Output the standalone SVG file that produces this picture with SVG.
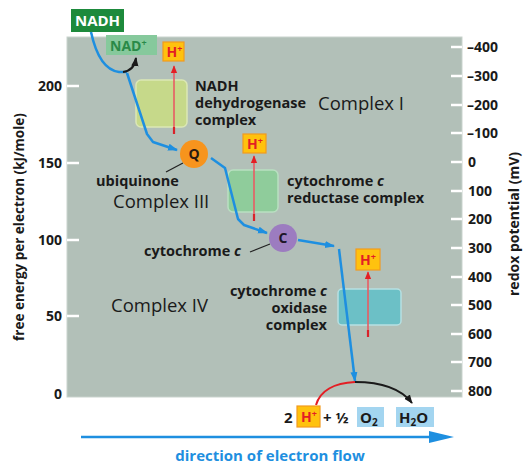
<svg xmlns="http://www.w3.org/2000/svg" width="525" height="469" viewBox="0 0 525 469">
<style>
text{font-family:"Open Sans","Liberation Sans",sans-serif;}
.b{font-weight:bold;font-size:14.5px;fill:#1a1a1a;}
.ax{font-weight:bold;font-size:14px;fill:#1a1a1a;}
.cx{font-size:18.5px;fill:#1a1a1a;}
.tick{stroke:#ffffff;stroke-width:2.5;}
.e{fill:none;stroke:#1e8fe0;stroke-width:2.5;stroke-linejoin:round;}
.hb{fill:#ffc20e;stroke:#f29a1f;stroke-width:1.2;}
.ht{font-weight:bold;font-size:14px;fill:#e31e24;}
.hs{font-size:9px;}
.red{stroke:#e85c63;stroke-width:1.6;fill:none;}
.ob{fill:#a3d5f0;}
</style>
<defs>
<marker id="ab" viewBox="0 0 10 10" refX="9" refY="5" markerWidth="4" markerHeight="4" orient="auto" markerUnits="strokeWidth"><path d="M0,1.5 L10,5 L0,8.5 z" fill="#1e8fe0"/></marker>
<marker id="ak" viewBox="0 0 10 10" refX="9" refY="5" markerWidth="4.5" markerHeight="4.5" orient="auto" markerUnits="strokeWidth"><path d="M0,1 L10,5 L0,9 z" fill="#1a1a1a"/></marker>
<marker id="ar" viewBox="0 0 10 10" refX="9" refY="5" markerWidth="5" markerHeight="5" orient="auto" markerUnits="strokeWidth"><path d="M0,1 L10,5 L0,9 z" fill="#e31e24"/></marker>
</defs>

<g id="panel">
<rect x="67" y="37" width="395" height="360" fill="#b2c0b8" stroke="#c9d3cd" stroke-width="1"/>
</g>

<g id="left-axis">
<line class="tick" x1="67" y1="86" x2="79" y2="86"/>
<line class="tick" x1="67" y1="163" x2="79" y2="163"/>
<line class="tick" x1="67" y1="240" x2="79" y2="240"/>
<line class="tick" x1="67" y1="316" x2="79" y2="316"/>
<text class="ax" x="62" y="91" text-anchor="end">200</text>
<text class="ax" x="62" y="168" text-anchor="end">150</text>
<text class="ax" x="62" y="245" text-anchor="end">100</text>
<text class="ax" x="62" y="321" text-anchor="end">50</text>
<text class="ax" x="62" y="399" text-anchor="end">0</text>
<text class="ax" font-size="13.5" transform="translate(24,227) rotate(-90)" text-anchor="middle" style="font-size:13.5px">free energy per electron (kJ/mole)</text>
</g>

<g id="right-axis">
<line class="tick" x1="451" y1="47" x2="462" y2="47"/>
<line class="tick" x1="451" y1="76" x2="462" y2="76"/>
<line class="tick" x1="451" y1="105" x2="462" y2="105"/>
<line class="tick" x1="451" y1="133" x2="462" y2="133"/>
<line class="tick" x1="451" y1="162" x2="462" y2="162"/>
<line class="tick" x1="451" y1="191" x2="462" y2="191"/>
<line class="tick" x1="451" y1="219" x2="462" y2="219"/>
<line class="tick" x1="451" y1="248" x2="462" y2="248"/>
<line class="tick" x1="451" y1="277" x2="462" y2="277"/>
<line class="tick" x1="451" y1="305" x2="462" y2="305"/>
<line class="tick" x1="451" y1="334" x2="462" y2="334"/>
<line class="tick" x1="451" y1="362" x2="462" y2="362"/>
<line class="tick" x1="451" y1="391" x2="462" y2="391"/>
<text class="ax" x="467" y="52">–400</text>
<text class="ax" x="467" y="81">–300</text>
<text class="ax" x="467" y="110">–200</text>
<text class="ax" x="467" y="138">–100</text>
<text class="ax" x="468" y="167">0</text>
<text class="ax" x="468" y="196">100</text>
<text class="ax" x="468" y="224">200</text>
<text class="ax" x="468" y="253">300</text>
<text class="ax" x="468" y="282">400</text>
<text class="ax" x="468" y="310">500</text>
<text class="ax" x="468" y="339">600</text>
<text class="ax" x="468" y="367">700</text>
<text class="ax" x="468" y="396">800</text>
<text class="ax" transform="translate(519,224) rotate(-90)" text-anchor="middle">redox potential (mV)</text>
</g>

<g id="nadh">
<rect x="71" y="9" width="53" height="23" fill="#1d8a3c"/>
<text x="97.5" y="26" text-anchor="middle" style="font-weight:bold;font-size:15px;fill:#ffffff">NADH</text>
</g>
<g id="nad-plus">
<rect x="106" y="35" width="51" height="20" fill="#86c99c"/>
<text x="110" y="51" style="font-weight:bold;font-size:14px;fill:#2a8a48">NAD<tspan class="hs" dy="-5">+</tspan></text>
</g>

<g id="complex-I">
<rect x="136" y="80" width="51" height="47" rx="5" fill="#c6d98a" stroke="#dbe7b5" stroke-width="1.5"/>
<text class="b" x="195" y="91">NADH</text>
<text class="b" x="195" y="108">dehydrogenase</text>
<text class="b" x="195" y="125">complex</text>
<text class="cx" x="318" y="110">Complex I</text>
</g>
<g id="h-I">
<line class="red" x1="174" y1="133" x2="174" y2="66" marker-end="url(#ar)"/>
<line x1="174" y1="127" x2="174" y2="134" stroke="#d9222a" stroke-width="2.2"/>
<rect class="hb" x="163" y="42" width="21" height="19"/>
<text class="ht" x="166.5" y="57">H<tspan class="hs" dy="-5">+</tspan></text>
</g>

<g id="ubiquinone">
<line x1="183" y1="163" x2="166" y2="172" stroke="#222" stroke-width="1.3"/>
<circle cx="194" cy="154" r="14" fill="#f7941d"/>
<text x="194" y="159" text-anchor="middle" style="font-weight:bold;font-size:14px;fill:#2a1a10">Q</text>
<text class="b" x="96" y="186">ubiquinone</text>
<text class="cx" x="113" y="208">Complex III</text>
</g>

<g id="complex-III">
<rect x="228" y="170" width="50" height="42" rx="5" fill="#8fcc9b" stroke="#b9dfc1" stroke-width="1.5"/>
<text class="b" x="287" y="186">cytochrome <tspan font-style="italic">c</tspan></text>
<text class="b" x="287" y="203">reductase complex</text>
</g>
<g id="h-III">
<line class="red" x1="254" y1="220" x2="254" y2="156" marker-end="url(#ar)"/>
<line x1="254" y1="214" x2="254" y2="221" stroke="#d9222a" stroke-width="2.2"/>
<rect class="hb" x="243" y="134" width="23" height="19"/>
<text class="ht" x="247" y="149">H<tspan class="hs" dy="-5">+</tspan></text>
</g>

<g id="cytochrome-c">
<line x1="270" y1="244" x2="250" y2="252" stroke="#222" stroke-width="1.3"/>
<circle cx="283" cy="238" r="14" fill="#9c7cc0"/>
<text x="283" y="243" text-anchor="middle" style="font-weight:bold;font-size:14px;fill:#1e1628">C</text>
<text class="b" x="144" y="256">cytochrome <tspan font-style="italic">c</tspan></text>
<text class="cx" x="111" y="312">Complex IV</text>
</g>

<g id="complex-IV">
<rect x="338" y="289" width="63" height="36" rx="4" fill="#6cc0c6" stroke="#b6e0e2" stroke-width="1.5"/>
<text class="b" x="327" y="296" text-anchor="end">cytochrome <tspan font-style="italic">c</tspan></text>
<text class="b" x="327" y="313" text-anchor="end">oxidase</text>
<text class="b" x="327" y="330" text-anchor="end">complex</text>
</g>
<g id="h-IV">
<line class="red" x1="368" y1="336" x2="368" y2="272" marker-end="url(#ar)"/>
<line x1="368" y1="330" x2="368" y2="337" stroke="#d9222a" stroke-width="2.2"/>
<rect class="hb" x="356" y="249" width="24" height="21"/>
<text class="ht" x="360" y="265">H<tspan class="hs" dy="-5">+</tspan></text>
</g>

<g id="connectors">
<path class="e" d="M91,32 C96,55 104,70 119,72 L127,72"/>
<path d="M123,72 C131,71 135,65 136,58" fill="none" stroke="#1a1a1a" stroke-width="2" marker-end="url(#ak)"/>
<path class="e" d="M127,73 L147,134 L153,142 L177,150" marker-end="url(#ab)"/>
<path class="e" d="M211,158 L225,168 L238,219 L244,225 L267,233" marker-end="url(#ab)"/>
<path class="e" d="M298,240 L334,246" marker-end="url(#ab)"/>
<path class="e" d="M339,249 L355,381" marker-end="url(#ab)"/>
<path d="M316,405 C320,391 334,383 355,382" fill="none" stroke="#e31e24" stroke-width="2"/>
<path d="M355,382 C385,382 402,390 412,403" fill="none" stroke="#1a1a1a" stroke-width="2" marker-end="url(#ak)"/>
<line x1="81" y1="437" x2="432" y2="437" stroke="#1e8fe0" stroke-width="2.5"/>
<path d="M429,431 L454,437 L429,443 z" fill="#1e8fe0"/>
</g>

<g id="reaction">
<text class="b" x="284" y="423" style="font-size:15px">2</text>
<rect class="hb" x="297" y="406" width="23" height="21"/>
<text class="ht" x="301" y="422">H<tspan class="hs" dy="-5">+</tspan></text>
<text class="b" x="323" y="423" style="font-size:15px">+ ½</text>
<rect class="ob" x="357" y="407" width="27" height="20"/>
<text class="b" x="360" y="423" style="font-size:15px">O<tspan style="font-size:10px" dy="3">2</tspan></text>
<rect class="ob" x="396" y="407" width="38" height="20"/>
<text class="b" x="399" y="423" style="font-size:15px">H<tspan style="font-size:10px" dy="3">2</tspan><tspan dy="-3">O</tspan></text>
</g>

<g id="flow-label">
<text x="270" y="461" text-anchor="middle" style="font-weight:bold;font-size:15px;fill:#1e8fe0">direction of electron flow</text>
</g>
</svg>
